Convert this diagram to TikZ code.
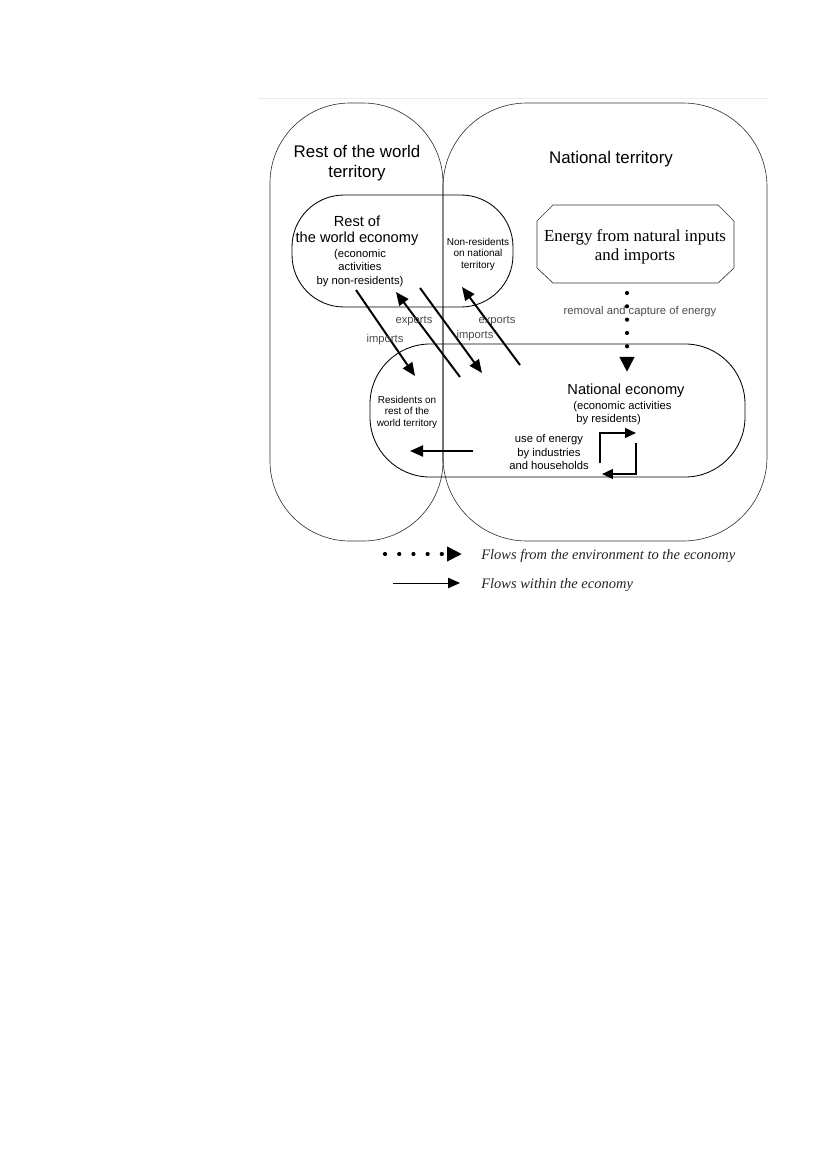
\documentclass[tikz,border=0pt]{standalone}
\usepackage{fontspec}
\setmainfont{Liberation Serif}
\setsansfont{Liberation Sans}
\usetikzlibrary{arrows.meta}

\begin{document}
\begin{tikzpicture}[x=0.025cm,y=-0.025cm,every node/.style={inner sep=0pt}]
    \tikzset{
      terr/.style={draw=black!80,line width=0.45pt},
      econ/.style={draw=black,line width=0.6pt},
      flow/.style={-{Triangle[length=0.33cm,width=0.28cm]},line width=1.4pt},
      loopflow/.style={-{Triangle[length=0.27cm,width=0.24cm]},line width=1.4pt},
      envflow/.style={-{Triangle[length=0.375cm,width=0.35cm]},line width=3pt,
        line cap=round,dash pattern=on 0pt off 0.333cm},
      legflow/.style={-{Triangle[length=0.3cm,width=0.26cm]},line width=0.7pt},
      tlabel/.style={font=\sffamily\fontsize{12}{14.2}\selectfont,align=center},
      elabel/.style={font=\sffamily\fontsize{10.4}{11.4}\selectfont,align=center},
      slabel/.style={font=\sffamily\fontsize{8}{9.5}\selectfont,align=center},
      xlabel/.style={font=\sffamily\fontsize{7.1}{8.2}\selectfont,align=center},
      glabel/.style={font=\sffamily\fontsize{8}{9.5}\selectfont,black!70},
      legtext/.style={font=\rmfamily\itshape\fontsize{10.3}{12}\selectfont,black!85}
    }
    \useasboundingbox (0,0) rectangle (827,1169);

    % page edge
    \draw[black!8] (258,98) -- (768,98);

    % territories
    \draw[terr,rounded corners=2cm] (270,103) rectangle (443,541);
    \draw[terr,rounded corners=2.1cm] (443,103) rectangle (767,541);
    \draw[black!55,line width=0.9pt] (443,307) -- (443,462);
    \node[tlabel] (rowterr) at (357,163) {Rest of the world\\territory};
    \node[tlabel,anchor=base] (natterr) at (611,164) {National territory};

    % economies
    \draw[econ,rounded corners=1.3cm] (292,195) rectangle (513,307);
    \draw[econ,rounded corners=1.5cm] (370,344) rectangle (745,477);
    \node[elabel] (rowecon) at (357,231) {Rest of\\the world economy};
    \node[slabel] (rowact) at (360,268) {(economic\\activities\\by non-residents)};
    \node[xlabel] (nonres) at (478,254) {Non-residents\\on national\\territory};
    \node[xlabel] (resrow) at (407,412) {Residents on\\rest of the\\world territory};
    \node[elabel,anchor=base] (natecon) at (626,394) {National economy};
    \node[slabel,align=left,anchor=west] (natact) at (573,413)
      {(economic activities\\\ by residents)};
    \node[slabel] (useen) at (549,452) {use of energy\\by industries\\and households};

    % energy source
    \draw[terr] (553,205) -- (718,205) -- (734,221) -- (734,268) -- (718,283)
      -- (553,283) -- (537,268) -- (537,221) -- cycle;
    \node[align=center,font=\rmfamily\fontsize{12}{13.2}\selectfont] (energy)
      at (635,247) {Energy from natural inputs\\and imports};

    % removal and capture
    \coordinate (capa) at (627,293);
    \coordinate (capb) at (627,372);
    \draw[envflow] (capa) -- (capb);
    \node[glabel,anchor=base] (removal) at (640,314) {removal and capture of energy};

    % imports and exports
    \coordinate (ima1) at (356,290);
    \coordinate (ima2) at (415,376);
    \coordinate (exa1) at (460,377);
    \coordinate (exa2) at (396,292);
    \coordinate (imb1) at (420,288);
    \coordinate (imb2) at (482,373);
    \coordinate (exb1) at (520,365);
    \coordinate (exb2) at (462,287);
    \draw[flow] (ima1) -- (ima2);
    \draw[flow] (exa1) -- (exa2);
    \draw[flow] (imb1) -- (imb2);
    \draw[flow] (exb1) -- (exb2);
    \node[glabel,anchor=base] (exlbla) at (414,323) {exports};
    \node[glabel,anchor=base] (imlbla) at (385,342) {imports};
    \node[glabel,anchor=base] (exlblb) at (497,323) {exports};
    \node[glabel,anchor=base] (imlblb) at (475,338) {imports};

    % residents abroad
    \coordinate (abra) at (473,451);
    \coordinate (abrb) at (410,451);
    \draw[flow] (abra) -- (abrb);

    % use of energy loop
    \coordinate (lpa1) at (600,463);
    \coordinate (lpa2) at (636,433);
    \coordinate (lpb1) at (636,443);
    \coordinate (lpb2) at (602,474);
    \draw[loopflow] (lpa1) |- (lpa2);
    \draw[loopflow] (lpb1) |- (lpb2);

    % legend
    \coordinate (lga1) at (385,554);
    \coordinate (lga2) at (462,554);
    \draw[envflow,dash pattern=on 0pt off 0.355cm] (lga1) -- (lga2);
    \node[legtext,anchor=base west] (lgtxta) at (481,559)
      {Flows from the environment to the economy};
    \coordinate (lgb1) at (393,583);
    \coordinate (lgb2) at (460,583);
    \draw[legflow] (lgb1) -- (lgb2);
    \node[legtext,anchor=base west] (lgtxtb) at (481,588) {Flows within the economy};
  \end{tikzpicture}
\end{document}
